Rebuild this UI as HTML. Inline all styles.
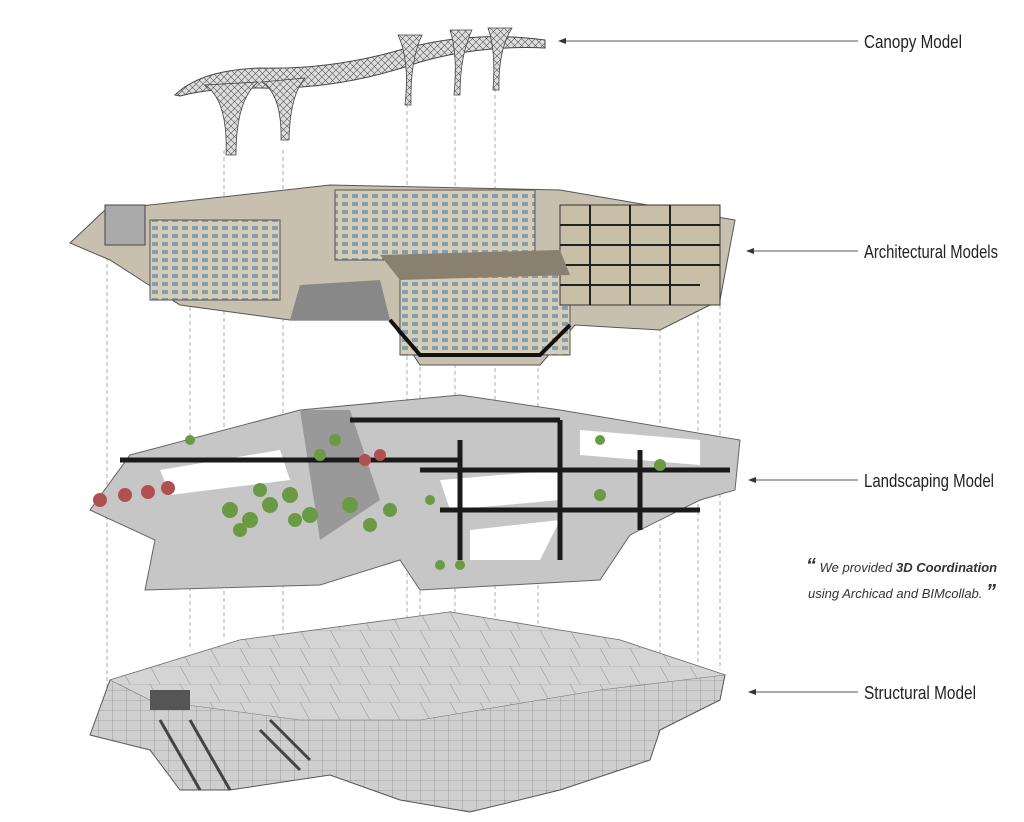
<!DOCTYPE html>
<html><head><meta charset="utf-8"><style>
html,body{margin:0;padding:0;background:#fff;width:1024px;height:822px;overflow:hidden}
svg{display:block}
.lbl{font-family:"Liberation Sans",sans-serif;font-size:18px;fill:#222}
.q{font-family:"Liberation Sans",sans-serif;font-style:italic;font-size:13px;fill:#333}
</style></head><body>
<svg width="1024" height="822" viewBox="0 0 1024 822" xmlns="http://www.w3.org/2000/svg">
<defs>
<pattern id="grid" width="7" height="7" patternUnits="userSpaceOnUse"><rect width="7" height="7" fill="#ddd"/><path d="M0 0L7 7M7 0L0 7" stroke="#555" stroke-width="0.6"/></pattern>
<pattern id="win" width="10" height="8" patternUnits="userSpaceOnUse"><rect width="10" height="8" fill="#d8ccb4"/><rect x="2" y="2" width="6" height="4" fill="#7f9fb4"/></pattern>
<pattern id="st" width="14" height="10" patternUnits="userSpaceOnUse"><rect width="14" height="10" fill="#cfcfcf"/><path d="M0 0H14M0 0V10" stroke="#777" stroke-width="0.6"/></pattern>
<pattern id="top" width="30" height="18" patternUnits="userSpaceOnUse"><rect width="30" height="18" fill="#d4d4d4"/><path d="M0 0H30M0 0L10 18" stroke="#999" stroke-width="0.6"/></pattern>
</defs>
<!-- dashed lines -->
<g stroke="#999" stroke-width="0.8" stroke-dasharray="4 3">
<path d="M107 250V700M190 300V650M224 150V640M283 150V650M407 90V660M455 70V640M495 60V650M538 340V640M660 300V680M698 280V670M720 270V670M420 360V800"/>
</g>
<!-- canopy -->
<path d="M175 95 Q200 70 260 68 Q330 70 400 50 Q470 30 545 40 L545 48 Q480 45 420 62 Q340 90 260 88 Q210 88 180 96 Z" fill="url(#grid)" stroke="#444"/>
<g fill="url(#grid)" stroke="#444" stroke-width="0.8">
<path d="M205 85 Q228 100 226 155 L236 155 Q236 100 258 82 Z"/>
<path d="M262 82 Q282 95 281 140 L289 140 Q290 95 305 78 Z"/>
<path d="M398 35 Q410 60 405 105 L411 105 Q410 60 422 35 Z"/>
<path d="M450 30 Q458 55 454 95 L460 95 Q460 55 472 30 Z"/>
<path d="M488 28 Q496 50 493 90 L499 90 Q498 50 512 28 Z"/>
</g>
<!-- architecture -->
<path d="M70 243 L105 210 L330 185 L560 190 L735 220 L720 300 L660 330 L575 325 L540 365 L420 365 L390 320 L290 320 L180 305 L110 260 Z" fill="#c8c0ae" stroke="#555"/>
<rect x="105" y="205" width="40" height="40" fill="#aaa" stroke="#444"/>
<rect x="150" y="220" width="130" height="80" fill="url(#win)" stroke="#555"/>
<rect x="335" y="190" width="200" height="70" fill="url(#win)" stroke="#555"/>
<rect x="400" y="270" width="170" height="85" fill="url(#win)" stroke="#555"/>
<rect x="560" y="205" width="160" height="100" fill="#c9bfa6" stroke="#333"/>
<path d="M560 225H720M560 245H720M560 265H720M560 285H700M590 205V305M630 205V305M670 205V305" stroke="#222" stroke-width="2"/>
<path d="M300 285 L380 280 L390 320 L290 320 Z" fill="#888"/>
<path d="M390 320 L420 355 L540 355 L570 325" stroke="#111" stroke-width="4" fill="none"/>
<path d="M380 255 L560 250 L570 275 L400 280 Z" fill="#8a8070"/>
<!-- landscaping -->
<path d="M130 455 L300 410 L460 395 L560 410 L740 440 L735 490 L700 500 L630 535 L600 580 L420 590 L400 560 L320 585 L145 590 L155 540 L90 510 Z" fill="#c6c6c6" stroke="#666"/>
<g fill="#fff">
<path d="M440 480 L560 470 L560 500 L450 510 Z"/>
<path d="M580 430 L700 440 L700 465 L580 455 Z"/>
<path d="M470 530 L560 520 L540 560 L470 560 Z"/>
<path d="M160 470 L280 450 L290 480 L170 495 Z"/>
</g>
<path d="M300 410 L350 410 L380 500 L320 540 Z" fill="#999"/>
<path d="M120 460H460M420 470H730M440 510H700M460 440V560M560 420V560M640 450V530M350 420H560" stroke="#1a1a1a" stroke-width="5" fill="none"/>
<g fill="#6a9a44">
<circle cx="230" cy="510" r="8"/><circle cx="250" cy="520" r="8"/><circle cx="270" cy="505" r="8"/><circle cx="290" cy="495" r="8"/><circle cx="310" cy="515" r="8"/><circle cx="240" cy="530" r="7"/><circle cx="350" cy="505" r="8"/><circle cx="370" cy="525" r="7"/><circle cx="390" cy="510" r="7"/><circle cx="320" cy="455" r="6"/><circle cx="335" cy="440" r="6"/><circle cx="190" cy="440" r="5"/><circle cx="440" cy="565" r="5"/><circle cx="460" cy="565" r="5"/><circle cx="600" cy="440" r="5"/><circle cx="660" cy="465" r="6"/><circle cx="600" cy="495" r="6"/><circle cx="430" cy="500" r="5"/><circle cx="295" cy="520" r="7"/><circle cx="260" cy="490" r="7"/>
</g>
<g fill="#b05050"><circle cx="100" cy="500" r="7"/><circle cx="125" cy="495" r="7"/><circle cx="148" cy="492" r="7"/><circle cx="168" cy="488" r="7"/><circle cx="365" cy="460" r="6"/><circle cx="380" cy="455" r="6"/></g>
<!-- structural -->
<path d="M110 680 L240 640 L450 612 L620 640 L725 675 L720 700 L660 730 L650 760 L560 790 L470 812 L400 800 L330 775 L230 790 L180 790 L150 750 L90 735 Z" fill="url(#st)" stroke="#555"/>
<path d="M110 680 L240 640 L450 612 L620 640 L725 675 L600 690 L420 720 L300 720 L150 700 Z" fill="url(#top)" stroke="#777" stroke-width="0.6"/>
<rect x="150" y="690" width="40" height="20" fill="#555"/>
<path d="M160 720 L200 790 M190 720 L230 790 M260 730 L300 770 M270 720 L310 760" stroke="#444" stroke-width="3"/>
<!-- arrows -->
<g stroke="#555" stroke-width="1">
<path d="M562 41H858M750 251H858M752 480H858M752 692H858"/>
</g>
<g fill="#333">
<path d="M558 41 l8 -3 v6z M746 251 l8 -3 v6z M748 480 l8 -3 v6z M748 692 l8 -3 v6z"/>
</g>
<text class="lbl" x="864" y="48" textLength="98" lengthAdjust="spacingAndGlyphs">Canopy Model</text>
<text class="lbl" x="864" y="258" textLength="134" lengthAdjust="spacingAndGlyphs">Architectural Models</text>
<text class="lbl" x="864" y="487" textLength="130" lengthAdjust="spacingAndGlyphs">Landscaping Model</text>
<text class="lbl" x="864" y="699" textLength="112" lengthAdjust="spacingAndGlyphs">Structural Model</text>
<text class="q" x="806" y="572"><tspan font-size="20" font-weight="bold">“</tspan> We provided <tspan font-weight="bold">3D Coordination</tspan></text>
<text class="q" x="808" y="598">using Archicad and BIMcollab. <tspan font-size="20" font-weight="bold">”</tspan></text>
</svg>
</body></html>
